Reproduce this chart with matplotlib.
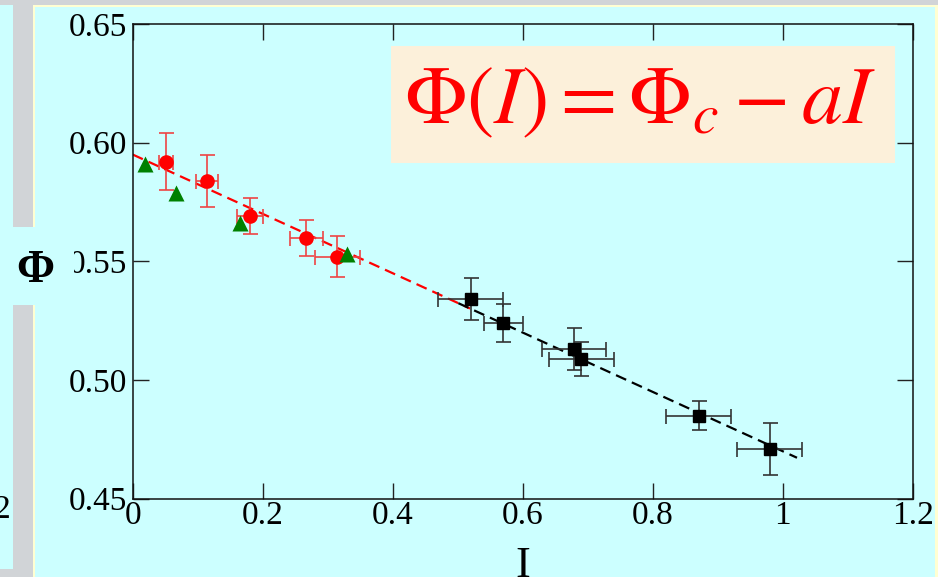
import matplotlib
matplotlib.use("Agg")
import matplotlib.pyplot as plt
import numpy as np
from matplotlib.patches import Rectangle

# --- data -------------------------------------------------------------
# red circles (with error bars)
red_I = [0.051, 0.114, 0.180, 0.267, 0.315]
red_phi = [0.592, 0.584, 0.569, 0.560, 0.552]
red_Ierr = [0.011, 0.017, 0.020, 0.025, 0.034]
red_phierr = [0.012, 0.011, 0.0075, 0.0076, 0.0086]

# green triangles (no error bars)
green_I = [0.019, 0.066, 0.165, 0.330]
green_phi = [0.591, 0.579, 0.566, 0.553]

# black squares (with error bars)
black_I = [0.520, 0.570, 0.679, 0.690, 0.871, 0.980]
black_phi = [0.534, 0.524, 0.513, 0.509, 0.485, 0.471]
black_Ierr = [0.050, 0.030, 0.049, 0.050, 0.050, 0.050]
black_phierr = [0.0088, 0.0079, 0.0089, 0.0071, 0.0062, 0.011]

# linear law Phi(I) = Phi_c - a I
phi_c = 0.595
a_coef = 0.125
red_fit_range = [0.0, 0.519]
black_fit_range = [0.501, 1.022]

x_ticks = [0, 0.2, 0.4, 0.6, 0.8, 1.0, 1.2]
x_ticklabels = ["0", "0.2", "0.4", "0.6", "0.8", "1", "1.2"]
y_ticks = [0.45, 0.50, 0.55, 0.60, 0.65]
y_ticklabels = ["0.45", "0.50", "0.55", "0.60", "0.65"]

# --- style ------------------------------------------------------------
plt.rcParams["font.family"] = ["Liberation Serif", "DejaVu Serif"]
plt.rcParams["mathtext.fontset"] = "stix"

W, H = 938, 577
bg = "#CCFFFF"
gray = "#D1D4D7"
cream = "#FFFFD2"

fig = plt.figure(figsize=(W / 100, H / 100), dpi=100, facecolor=bg)


def px_rect(x0, y0, x1, y1, color, z=1):
    # rectangle given in pixel coords measured from the top-left corner
    r = Rectangle((x0 / W, 1 - y1 / H), (x1 - x0) / W, (y1 - y0) / H,
                  transform=fig.transFigure, facecolor=color,
                  edgecolor="none", zorder=z)
    fig.add_artist(r)
    return r


# slide frame strips on the top/left edges
px_rect(0, 0, W, 5, gray, z=-1)
px_rect(34, 5, W, 7, cream, z=-1)
px_rect(935, 5, W, H, cream, z=-1)
px_rect(13, 5, 33.3, H, gray, z=-1)
px_rect(0, 569, 33.3, H, gray, z=-1)
px_rect(33.3, 5, 35.3, H, cream, z=-1)

ax = fig.add_axes([132.7 / W, 1 - 498.7 / H, 780 / W, 474.7 / H])
ax.set_facecolor(bg)
ax.set_xlim(0, 1.2)
ax.set_ylim(0.45, 0.65)
ax.set_xticks(x_ticks)
ax.set_xticklabels(x_ticklabels)
ax.set_yticks(y_ticks)
ax.set_yticklabels(y_ticklabels)
ax.tick_params(direction="in", length=11.5, width=1.0, color="#222222",
               top=True, right=True, labelsize=24, pad=4)
ax.tick_params(axis="x", pad=1.5)
for s in ax.spines.values():
    s.set_linewidth(1.1)
    s.set_color("#111111")

# fitted law, red over the low-I range and black over the high-I range
xr = np.array(red_fit_range)
ax.plot(xr, phi_c - a_coef * xr, color="red", lw=1.6,
        linestyle=(0, (5, 2.8)), zorder=2)
xb = np.array(black_fit_range)
ax.plot(xb, phi_c - a_coef * xb, color="black", lw=1.6,
        linestyle=(0, (5, 2.8)), zorder=2)

ax.errorbar(red_I, red_phi, xerr=red_Ierr, yerr=red_phierr, fmt="o",
            color="red", ms=9.5, ecolor="#EE4444", elinewidth=1.2,
            capsize=5.4, capthick=1.2, zorder=3)
ax.plot(green_I, green_phi, "^", color="#008000", ms=12, mec="none", zorder=4)
ax.errorbar(black_I, black_phi, xerr=black_Ierr, yerr=black_phierr, fmt="s",
            color="black", ms=8, ecolor="#333333", elinewidth=1.2,
            capsize=5.4, capthick=1.2, zorder=3)

# formula panel
px_rect(390.7, 46, 895.3, 163, "#FCF0DA", z=1)
fig.text(404 / W, 1 - 123.3 / H, r"$\Phi(I) = \Phi_c - aI$", color="red",
         fontsize=59, ha="left", va="baseline", zorder=2)

# axis labels; the Phi label sits on a plain patch over the frame strip
px_rect(0, 227.3, 74, 305.3, bg, z=1)
fig.text(35.5 / W, 1 - 270.5 / H, "\u03a6", fontsize=33, fontweight="bold",
         ha="center", va="center", zorder=2)
fig.text(523 / W, 1 - 545.7 / H, "I", fontsize=32, ha="center", va="top",
         zorder=2)
fig.text(10 / W, 1 - 510 / H, "2", fontsize=24, ha="right", va="center",
         zorder=2)

fig.savefig("out.png", dpi=100, facecolor=bg)
